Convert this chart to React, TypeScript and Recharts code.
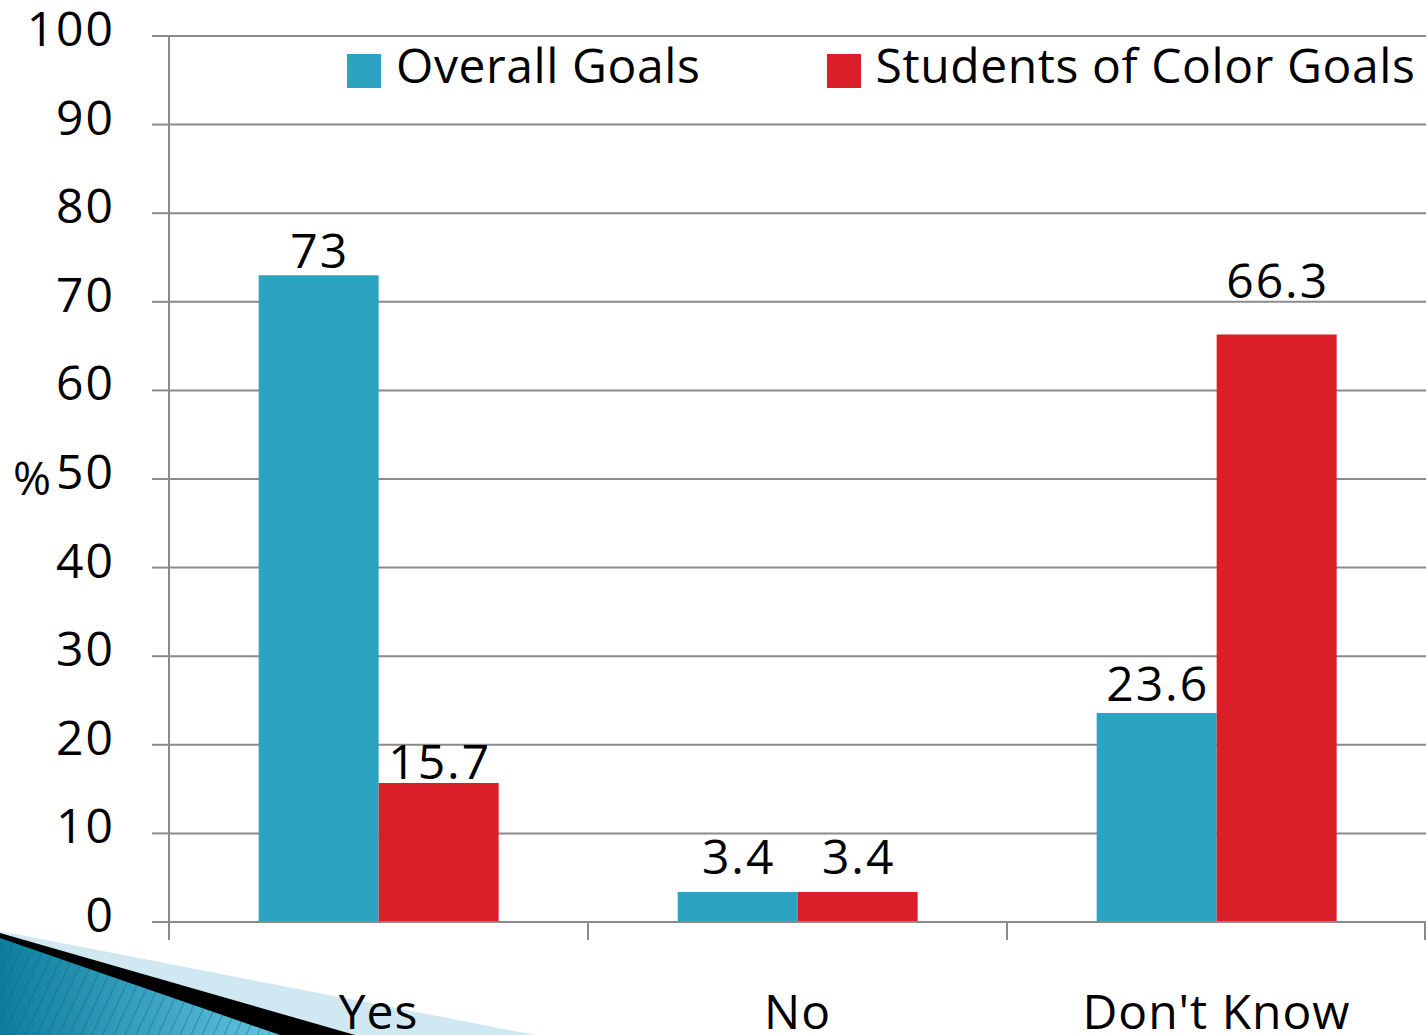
import { BarChart, Bar, XAxis, YAxis, CartesianGrid, Legend, LabelList } from "recharts";

const categories = ["Yes", "No", "Don't Know"];
const overallGoals = [73, 3.4, 23.6];
const colorGoals = [15.7, 3.4, 66.3];
const yTicks = [0, 10, 20, 30, 40, 50, 60, 70, 80, 90, 100];

const data = categories.map((c, i) => ({ name: c, overall: overallGoals[i], color: colorGoals[i] }));

const W = 1426;
const H = 1035;
const Y_AXIS_W = 169;
const PLOT_W = W - Y_AXIS_W;
const FONT = "'Open Sans', sans-serif";
const GRID = "#8a8a8a";
const BLUE = "#2ca3c0";
const RED = "#db1f29";
// how far each value label sits above its bar (the original slide is uneven)
const overallLift = [3, 14, 8];
const colorLift = [0, 14, 33];

function YTick({ y, payload }: any) {
  return (
    <text x={115} y={y + 10} textAnchor="end" fontSize={48} letterSpacing={2} fontFamily={FONT} fill="#000">
      {payload.value}
    </text>
  );
}

function XTick({ x, y, payload, index }: any) {
  const half = PLOT_W / categories.length / 2;
  return (
    <g>
      <line x1={x - half} x2={x - half} y1={y} y2={y + 18} stroke={GRID} strokeWidth={2} />
      {index === categories.length - 1 && (
        <line x1={x + half - 1} x2={x + half - 1} y1={y} y2={y + 18} stroke={GRID} strokeWidth={2} />
      )}
      <text x={x} y={y + 107} textAnchor="middle" fontSize={48} letterSpacing={1} fontFamily={FONT} fill="#000">
        {payload.value}
      </text>
    </g>
  );
}

function makeLabel(lift: number[]) {
  return function ValueLabel({ x, y, width, value, index }: any) {
    return (
      <text
        x={x + width / 2 + 1}
        y={y - lift[index] - 4}
        textAnchor="middle"
        fontSize={48}
        letterSpacing={2}
        fontFamily={FONT}
        fill="#000"
      >
        {value}
      </text>
    );
  };
}

function LegendBox({ payload }: any) {
  return (
    <div style={{ display: "flex", whiteSpace: "nowrap", fontFamily: FONT, fontSize: 48, letterSpacing: 0.6, color: "#000" }}>
      {payload.map((p: any, i: number) => (
        <div key={p.value} style={{ display: "flex", alignItems: "center", flexShrink: 0, marginLeft: i ? 126 : 0 }}>
          <span style={{ width: 34, height: 34, background: p.color, display: "inline-block", flexShrink: 0, marginRight: 15, marginTop: 12 }} />
          <span style={{ lineHeight: "60px" }}>{p.value}</span>
        </div>
      ))}
    </div>
  );
}

function Decoration() {
  return (
    <svg width={W} height={H} style={{ position: "absolute", left: 0, top: 0 }}>
      <defs>
        <linearGradient id="deco" x1="0" y1="0" x2="1" y2="0">
          <stop offset="0" stopColor="#0d7d9e" />
          <stop offset="1" stopColor="#62c4e0" />
        </linearGradient>
        <pattern id="stripes" width="10" height="10" patternUnits="userSpaceOnUse" patternTransform="rotate(25)">
          <line x1="0" y1="0" x2="0" y2="10" stroke="#0b5f78" strokeWidth="2" opacity="0.45" />
        </pattern>
      </defs>
      <polygon points="0,931 535,1035 0,1035" fill="#cfe8f1" />
      <polygon points="0,933 355,1035 0,1035" fill="#000" />
      <polygon points="0,938 280,1035 0,1035" fill="url(#deco)" />
      <polygon points="0,938 280,1035 0,1035" fill="url(#stripes)" />
    </svg>
  );
}

export default function App() {
  return (
    <div style={{ position: "absolute", left: 0, top: 0, width: W, height: H, background: "#fff", overflow: "hidden" }}>
      <Decoration />
      <div style={{ position: "absolute", left: 0, top: 0 }}>
        <BarChart
          width={W}
          height={H}
          data={data}
          margin={{ top: 36, right: 0, left: 0, bottom: 0 }}
          barCategoryGap="21.4%"
          barGap={0}
        >
          <CartesianGrid vertical={false} stroke={GRID} strokeWidth={2} />
          <XAxis
            dataKey="name"
            height={113}
            tickLine={false}
            tickSize={0}
            tickMargin={0}
            axisLine={{ stroke: GRID, strokeWidth: 2 }}
            tick={<XTick />}
            interval={0}
          />
          <YAxis
            width={Y_AXIS_W}
            domain={[0, 100]}
            ticks={yTicks}
            interval={0}
            tickSize={17}
            tickLine={{ stroke: GRID, strokeWidth: 2 }}
            axisLine={{ stroke: GRID, strokeWidth: 2 }}
            tick={<YTick />}
            label={{ value: "%", position: "insideLeft", offset: 13, fontSize: 46, fontFamily: FONT, fill: "#000" }}
          />
          <Legend
            layout="horizontal"
            verticalAlign="middle"
            align="center"
            wrapperStyle={{ top: 35, left: 347, width: 1100, height: 60 }}
            content={<LegendBox />}
          />
          <Bar dataKey="overall" name="Overall Goals" fill={BLUE} isAnimationActive={false}>
            <LabelList dataKey="overall" content={makeLabel(overallLift)} />
          </Bar>
          <Bar dataKey="color" name="Students of Color Goals" fill={RED} isAnimationActive={false}>
            <LabelList dataKey="color" content={makeLabel(colorLift)} />
          </Bar>
        </BarChart>
      </div>
    </div>
  );
}
